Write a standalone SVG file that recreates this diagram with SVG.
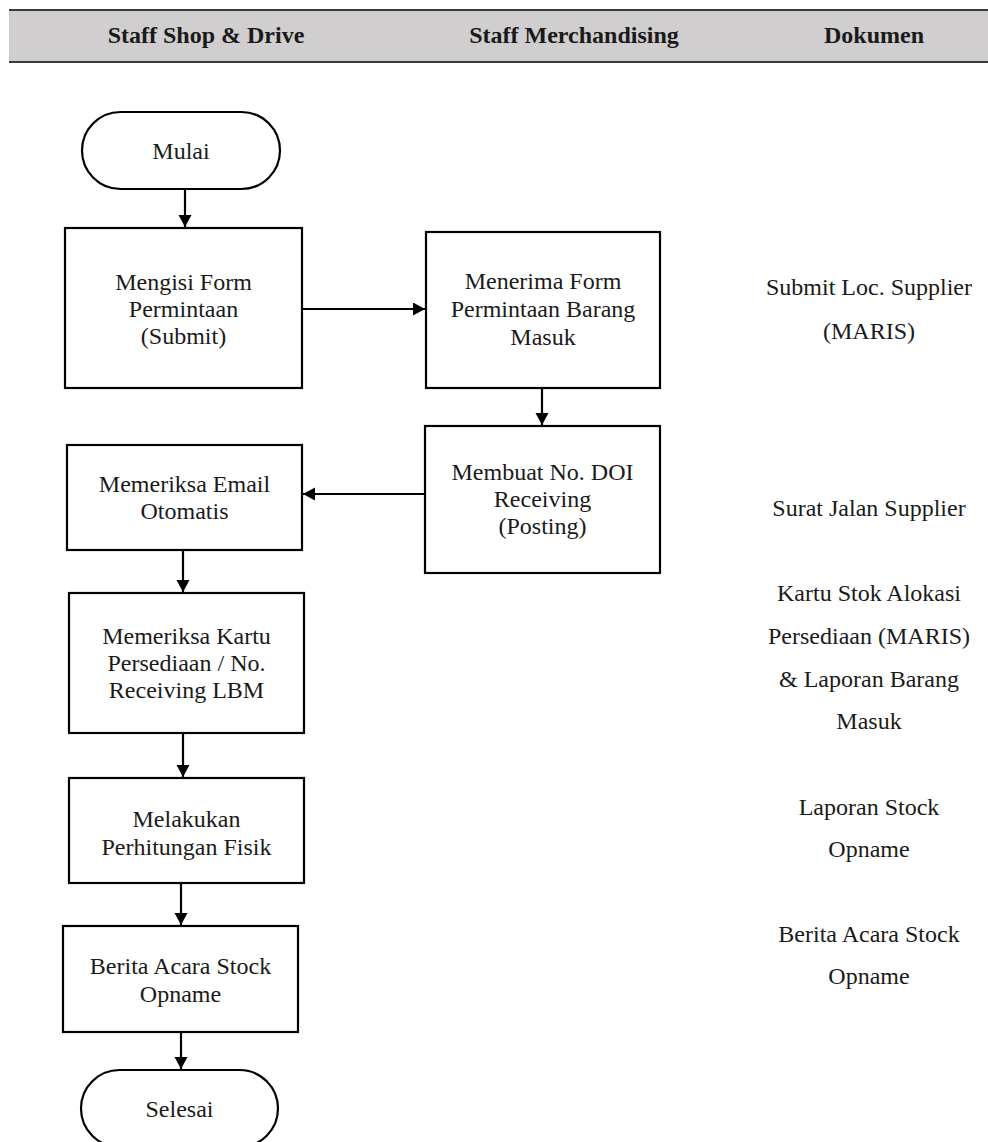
<svg xmlns="http://www.w3.org/2000/svg" width="988" height="1142" viewBox="0 0 988 1142">
<style>
  text { font-family: "Liberation Serif", "Times New Roman", serif; font-size: 24px; fill: #1a1a1a; text-anchor: middle; }
  .hdr { font-weight: bold; }
  .box { fill: #ffffff; stroke: #000000; stroke-width: 2.2; }
  .conn { stroke: #000000; stroke-width: 2.2; fill: none; marker-end: url(#arrow); }
</style>
<defs>
  <marker id="arrow" markerUnits="userSpaceOnUse" markerWidth="14" markerHeight="14" refX="12" refY="6.5" orient="auto">
    <path d="M0,0 L12,6.5 L0,13 Z" fill="#000000"/>
  </marker>
</defs>
<rect width="988" height="1142" fill="#ffffff"/>
<g id="header">
  <rect x="9" y="10" width="979" height="52" fill="#d0cece"/>
  <line x1="9" y1="10" x2="988" y2="10" stroke="#3a3a3a" stroke-width="2"/>
  <line x1="9" y1="62" x2="988" y2="62" stroke="#3a3a3a" stroke-width="2"/>
  <text class="hdr" x="206" y="43">Staff Shop &amp; Drive</text>
  <text class="hdr" x="574" y="43">Staff Merchandising</text>
  <text class="hdr" x="874" y="43">Dokumen</text>
</g>
<g id="mulai">
  <rect class="box" x="82" y="112" width="198" height="77" rx="38.5" ry="38.5"/>
  <text x="181" y="159">Mulai</text>
</g>
<g id="mengisi-form">
  <rect class="box" x="65" y="228" width="237" height="160"/>
  <text x="183.5" y="290">Mengisi Form</text>
  <text x="183.5" y="317">Permintaan</text>
  <text x="183.5" y="344">(Submit)</text>
</g>
<g id="menerima-form">
  <rect class="box" x="426" y="232" width="234" height="156"/>
  <text x="543" y="289">Menerima Form</text>
  <text x="543" y="317">Permintaan Barang</text>
  <text x="543" y="345">Masuk</text>
</g>
<g id="membuat-doi">
  <rect class="box" x="425" y="426" width="235" height="147"/>
  <text x="542.5" y="480">Membuat No. DOI</text>
  <text x="542.5" y="507">Receiving</text>
  <text x="542.5" y="534">(Posting)</text>
</g>
<g id="memeriksa-email">
  <rect class="box" x="67" y="445" width="235" height="105"/>
  <text x="184.5" y="492">Memeriksa Email</text>
  <text x="184.5" y="519">Otomatis</text>
</g>
<g id="memeriksa-kartu">
  <rect class="box" x="69" y="593" width="235" height="140"/>
  <text x="186.5" y="644">Memeriksa Kartu</text>
  <text x="186.5" y="671">Persediaan / No.</text>
  <text x="186.5" y="698">Receiving LBM</text>
</g>
<g id="perhitungan-fisik">
  <rect class="box" x="69" y="778" width="235" height="105"/>
  <text x="186.5" y="827">Melakukan</text>
  <text x="186.5" y="855">Perhitungan Fisik</text>
</g>
<g id="berita-acara">
  <rect class="box" x="63" y="926" width="235" height="106"/>
  <text x="180.5" y="974">Berita Acara Stock</text>
  <text x="180.5" y="1002">Opname</text>
</g>
<g id="selesai">
  <rect class="box" x="81" y="1070" width="197" height="77" rx="38.5" ry="38.5"/>
  <text x="179.5" y="1117">Selesai</text>
</g>
<g id="dokumen">
  <text x="869" y="295">Submit Loc. Supplier</text>
  <text x="869" y="339">(MARIS)</text>
  <text x="869" y="516">Surat Jalan Supplier</text>
  <text x="869" y="601">Kartu Stok Alokasi</text>
  <text x="869" y="644">Persediaan (MARIS)</text>
  <text x="869" y="687">&amp; Laporan Barang</text>
  <text x="869" y="729">Masuk</text>
  <text x="869" y="815">Laporan Stock</text>
  <text x="869" y="857">Opname</text>
  <text x="869" y="942">Berita Acara Stock</text>
  <text x="869" y="984">Opname</text>
</g>
<g id="connectors">
  <line class="conn" x1="185" y1="189" x2="185" y2="227"/>
  <line class="conn" x1="302" y1="309" x2="425" y2="309"/>
  <line class="conn" x1="542" y1="388" x2="542" y2="425"/>
  <line class="conn" x1="425" y1="494" x2="303" y2="494"/>
  <line class="conn" x1="183" y1="550" x2="183" y2="592"/>
  <line class="conn" x1="183" y1="733" x2="183" y2="777"/>
  <line class="conn" x1="181" y1="883" x2="181" y2="925"/>
  <line class="conn" x1="181" y1="1032" x2="181" y2="1069"/>
</g>
</svg>
